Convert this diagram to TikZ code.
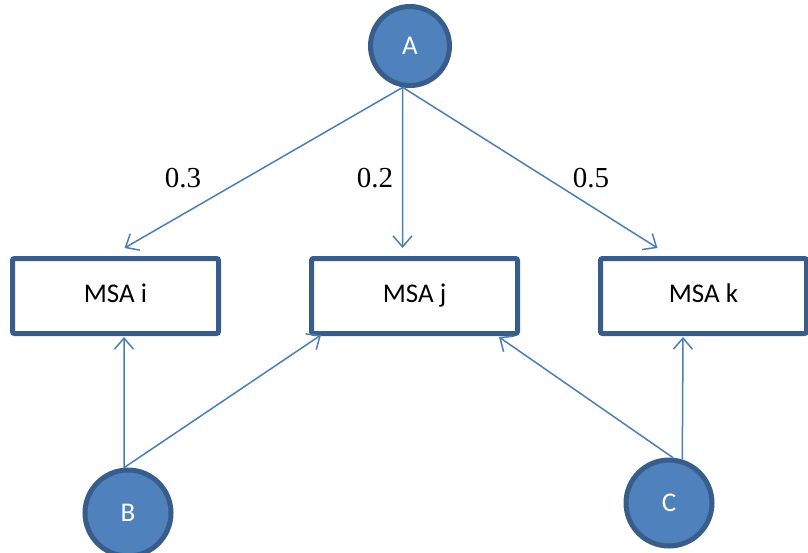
\documentclass[tikz,border=0pt]{standalone}
\usepackage{fontspec}
\setmainfont{Carlito}
\newfontfamily\timesfont{Liberation Serif}
\definecolor{msafill}{RGB}{79, 129, 189}
\definecolor{msaedge}{RGB}{56, 93, 138}
\definecolor{msaline}{RGB}{74, 126, 187}
\usetikzlibrary{arrows.meta, positioning}

\begin{document}
\begin{tikzpicture}[x=1pt, y=-1pt,
    seq/.style={circle, draw=msaedge, fill=msafill, line width=5pt, text=white,
      minimum size=#1, inner sep=0pt, font=\fontsize{27}{30}\selectfont},
    msabox/.style={draw=msaedge, fill=white, line width=5pt, rounded corners=2pt,
      minimum width=206pt, minimum height=75pt, text height=18pt, text depth=6pt,
      font=\fontsize{27}{30}\selectfont},
    weight/.style={anchor=base, font=\timesfont\fontsize{29}{32}\selectfont},
    link/.style={draw=msaline, line width=1.5pt, -{Straight Barb[length=11pt, width=19pt]}}]
  \useasboundingbox (0,0) rectangle (808,552);

  % sequences
  \node[seq=79pt] (A) at (410,46) {A};
  \node[seq=86pt] (B) at (128,513) {B};
  \node[seq=86pt] (C) at (669,503) {C};

  % alignments
  \node[msabox] (mi) at (115.5,296) {MSA i};
  \node[msabox] (mj) at (414.5,296) {MSA j};
  \node[msabox] (mk) at (703.5,296) {MSA k};

  % weights
  \node[weight] (l3) at (183,187) {0.3};
  \node[weight] (l2) at (375,187) {0.2};
  \node[weight] (l5) at (591,187) {0.5};

  \draw[link] (A.260) -- ([xshift=9pt, yshift=8pt]mi.north);
  \draw[link] (A.260) -- ([xshift=-12pt, yshift=8pt]mj.north);
  \draw[link] (A.260) -- ([xshift=-46pt, yshift=8pt]mk.north);

  \draw[link] (B.95) -- ([xshift=8.5pt, yshift=-1pt]mi.south);
  \draw[link] (B.95) -- ([xshift=12pt, yshift=1pt]mj.south west);
  \draw[link] (C.85) -- ([xshift=-21pt, yshift=-1pt]mj.south east);
  \draw[link] (C.73) -- ([xshift=-20.5pt, yshift=-1pt]mk.south);
\end{tikzpicture}
\end{document}
